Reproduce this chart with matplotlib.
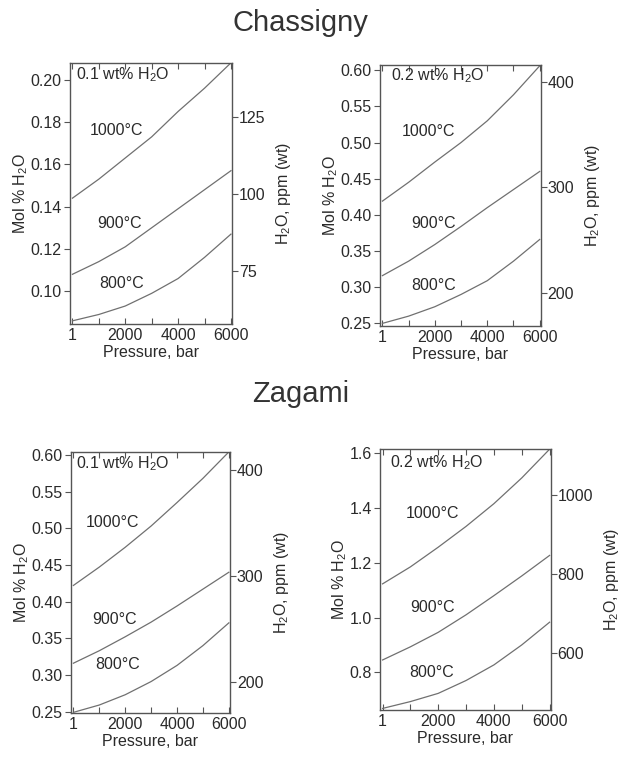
import numpy as np
import matplotlib
matplotlib.use("Agg")
import matplotlib.pyplot as plt
from matplotlib.ticker import FixedLocator, FormatStrFormatter

plt.rcParams['font.family'] = ['Liberation Sans', 'DejaVu Sans']
plt.rcParams['mathtext.fontset'] = 'custom'
plt.rcParams['mathtext.rm'] = 'Liberation Sans'
plt.rcParams['mathtext.it'] = 'Liberation Sans'
plt.rcParams['font.size'] = 11.5

pressure = [1, 1000, 2000, 3000, 4000, 5000, 6000]
temps = ['1000°C', '900°C', '800°C']

# mol % H2O
chas_01 = [[0.144, 0.153, 0.163, 0.173, 0.185, 0.196, 0.208],
           [0.108, 0.114, 0.121, 0.130, 0.139, 0.148, 0.157],
           [0.086, 0.089, 0.093, 0.099, 0.106, 0.116, 0.127]]
chas_02 = [[0.419, 0.445, 0.473, 0.500, 0.530, 0.566, 0.606],
           [0.316, 0.336, 0.359, 0.384, 0.410, 0.435, 0.460],
           [0.250, 0.260, 0.273, 0.290, 0.309, 0.336, 0.366]]
zag_01 = [[0.422, 0.447, 0.474, 0.503, 0.535, 0.568, 0.604],
          [0.316, 0.333, 0.352, 0.372, 0.394, 0.417, 0.440],
          [0.249, 0.259, 0.273, 0.291, 0.313, 0.340, 0.371]]
zag_02 = [[1.123, 1.185, 1.257, 1.333, 1.416, 1.510, 1.615],
          [0.845, 0.893, 0.946, 1.010, 1.080, 1.152, 1.227],
          [0.668, 0.693, 0.723, 0.770, 0.827, 0.900, 0.983]]

left_ticks = [[0.10, 0.12, 0.14, 0.16, 0.18, 0.20],
              [0.25, 0.30, 0.35, 0.40, 0.45, 0.50, 0.55, 0.60],
              [0.25, 0.30, 0.35, 0.40, 0.45, 0.50, 0.55, 0.60],
              [0.8, 1.0, 1.2, 1.4, 1.6]]
right_ticks = [[75, 100, 125], [200, 300, 400], [200, 300, 400], [600, 800, 1000]]
ppm_factor = [685, 685, 690, 690]   # ppm (wt) per mol %
wt_labels = ['0.1 wt% H$_2$O', '0.2 wt% H$_2$O', '0.1 wt% H$_2$O', '0.2 wt% H$_2$O']

panels = [chas_01, chas_02, zag_01, zag_02]
ylims = [(0.0845, 0.208), (0.246, 0.607), (0.248, 0.604), (0.662, 1.616)]
fmts = ['%.2f', '%.2f', '%.2f', '%.1f']
# label positions (pressure, mol %) for temperature labels and wt% note
temp_pos = [[(1650, 0.176), (1800, 0.132), (1850, 0.1035)],
            [(1750, 0.515), (1950, 0.388), (1950, 0.303)],
            [(1500, 0.508), (1580, 0.376), (1700, 0.314)],
            [(1780, 1.379), (1780, 1.038), (1780, 0.800)]]
wt_pos = [(120, 0.2025), (330, 0.593), (120, 0.588), (270, 1.564)]

rects = [[0.1124, 0.572, 0.260, 0.345],
         [0.610, 0.569, 0.258, 0.345],
         [0.114, 0.058, 0.255, 0.345],
         [0.610, 0.062, 0.274, 0.345]]

txt = '#2a2a2a'
line_c = '#707070'

fig = plt.figure(figsize=(6.23, 7.57), dpi=100)

for i in range(4):
    ax = fig.add_axes(rects[i])
    for j in range(3):
        ax.plot(pressure, panels[i][j], color=line_c, lw=0.9)
        ax.text(temp_pos[i][j][0], temp_pos[i][j][1], temps[j], ha='center',
                va='center', color=txt)
    ax.text(wt_pos[i][0], wt_pos[i][1], wt_labels[i], ha='left', va='center', color=txt)
    ax.set_xlim(-90, 6040)
    ax.set_ylim(ylims[i])
    ax.xaxis.set_major_locator(FixedLocator([1, 2000, 4000, 6000]))
    ax.xaxis.set_minor_locator(FixedLocator([1000, 3000, 5000]))
    ax.set_xticklabels(['1', '2000', '4000', '6000'])
    ax.tick_params(axis='x', which='both', direction='in', top=True, length=4,
                   width=0.8, colors='#555', labelcolor=txt, pad=3)
    ax.yaxis.set_major_locator(FixedLocator(left_ticks[i]))
    ax.yaxis.set_major_formatter(FormatStrFormatter(fmts[i]))
    ax.tick_params(axis='y', direction='out', length=4, width=0.8, colors='#555',
                   labelcolor=txt, pad=2)
    ax.set_xlabel('Pressure, bar', color=txt, labelpad=1)
    ax.set_ylabel('Mol % H$_2$O', color=txt, labelpad=0)
    for s in ax.spines.values():
        s.set_color('#555')
        s.set_linewidth(1.0)

    ax2 = ax.twinx()
    ax2.set_ylim(ylims[i][0] * ppm_factor[i], ylims[i][1] * ppm_factor[i])
    ax2.yaxis.set_major_locator(FixedLocator(right_ticks[i]))
    ax2.tick_params(axis='y', direction='out', length=4, width=0.8, colors='#555',
                    labelcolor=txt, pad=1)
    ax2.set_ylabel('H$_2$O, ppm (wt)', color=txt, labelpad=6)
    for s in ax2.spines.values():
        s.set_visible(False)

fig.text(0.482, 0.970, 'Chassigny', ha='center', va='center', fontsize=21, color='#333')
fig.text(0.482, 0.479, 'Zagami', ha='center', va='center', fontsize=21, color='#333')

fig.savefig('out.png', dpi=100, facecolor='white')
